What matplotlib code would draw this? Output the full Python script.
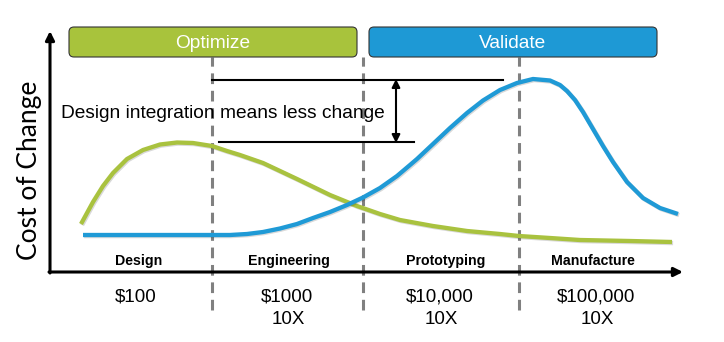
import matplotlib.pyplot as plt
import matplotlib.patheffects as pe
from matplotlib.patches import FancyBboxPatch

plt.rcParams['font.family'] = ['Liberation Sans', 'DejaVu Sans']

# curve samples: x across the stages, y = height above the x axis
green_x = [81, 87, 93, 103, 113, 127, 143, 160, 177, 193, 212, 227, 240,
           263, 297, 330, 357, 380, 400, 433, 467, 500, 519, 550, 580, 630, 672]
green_y = [48, 59, 70, 86, 99, 113, 122, 127.5, 129.5, 129, 126, 121, 117,
           109, 93, 77, 66, 58, 52, 46, 41, 38, 36, 34, 32, 31, 30]

blue_x = [83, 150, 212, 230, 247, 263, 280, 297, 313, 330, 347, 363, 380, 397,
          410, 417, 433, 450, 467, 483, 500, 517, 533, 550, 560, 567, 575, 583,
          593, 603, 613, 627, 643, 660, 678]
blue_y = [37, 37, 37, 37, 38, 40, 43.5, 48, 54, 60, 67, 74.5, 84, 96,
          107, 113, 128, 144, 159, 171.5, 182, 189, 193, 191.5, 187, 181, 172, 160,
          143, 126, 110, 90, 74, 64, 58]

stage_bounds = [212, 363, 519]
stage_names = ["Design", "Engineering", "Prototyping", "Manufacture"]
stage_centers = [139, 289, 446, 593]
cost_labels = ["$100", "$1000", "$10,000", "$100,000"]
cost_centers = [136, 287, 440, 596]
multipliers = ["", "10X", "10X", "10X"]

phases = [("Optimize", 69, 357, "#a8c33c"), ("Validate", 369, 657, "#1e99d5")]

fig = plt.figure(figsize=(7.24, 3.42), dpi=100)
ax = fig.add_axes([0, 0, 1, 1])
ax.set_xlim(0, 724)
ax.set_ylim(-70, 272)
ax.axis("off")

# stage boundaries
for xb in stage_bounds:
    ax.plot([xb, xb], [-38, 215], color="#808080", lw=2.2, ls=(0, (3.5, 2.2)), zorder=1)

shadow = [pe.SimpleLineShadow(offset=(0.8, -0.8), alpha=0.15, shadow_color="black"), pe.Normal()]
ax.plot(green_x, green_y, color="#a9c23f", lw=3.1, solid_capstyle="butt",
        solid_joinstyle="round", path_effects=shadow, zorder=3)
ax.plot(blue_x, blue_y, color="#1f9ad6", lw=3.1, solid_capstyle="butt",
        solid_joinstyle="round", path_effects=shadow, zorder=3)

# axes with arrows
ax.annotate("", xy=(50, 241), xytext=(50, -1),
            arrowprops=dict(arrowstyle="-|>", lw=2.2, color="black", mutation_scale=13,
                            shrinkA=0, shrinkB=0))
ax.annotate("", xy=(683, 0), xytext=(49, 0),
            arrowprops=dict(arrowstyle="-|>", lw=2.2, color="black", mutation_scale=13,
                            shrinkA=0, shrinkB=0))

ax.text(30, 102, "Cost of Change", rotation=90, ha="center", va="center",
        fontsize=19, family=["Lato", "DejaVu Sans"])

# phase boxes
for name, x0, x1, col in phases:
    box = FancyBboxPatch((x0, 215), x1 - x0, 30, boxstyle="round,pad=0,rounding_size=5",
                         facecolor=col, edgecolor="#333333", lw=0.8, zorder=4)
    ax.add_patch(box)
    ax.text((x0 + x1) / 2, 229, name, ha="center", va="center", color="white",
            fontsize=13.8, zorder=5)

# difference annotation
ax.plot([212, 503], [192, 192], color="black", lw=1.5, zorder=2)
ax.plot([219, 414], [130, 130], color="black", lw=1.5, zorder=2)
ax.annotate("", xy=(396, 193), xytext=(396, 129),
            arrowprops=dict(arrowstyle="<|-|>", lw=1.5, color="black", mutation_scale=12,
                            shrinkA=0, shrinkB=0))
ax.text(61, 159, "Design integration means less change", ha="left", va="center",
        fontsize=13.8, zorder=2)

for name, xc in zip(stage_names, stage_centers):
    ax.text(xc, 11, name, ha="center", va="center", fontsize=10.2, fontweight="bold")

for label, mult, xc in zip(cost_labels, multipliers, cost_centers):
    ax.text(xc, -25, label, ha="center", va="center", fontsize=13.5)
    if mult:
        ax.text(xc + 1, -48, mult, ha="center", va="center", fontsize=13.5)

fig.savefig("out.png", dpi=100)
